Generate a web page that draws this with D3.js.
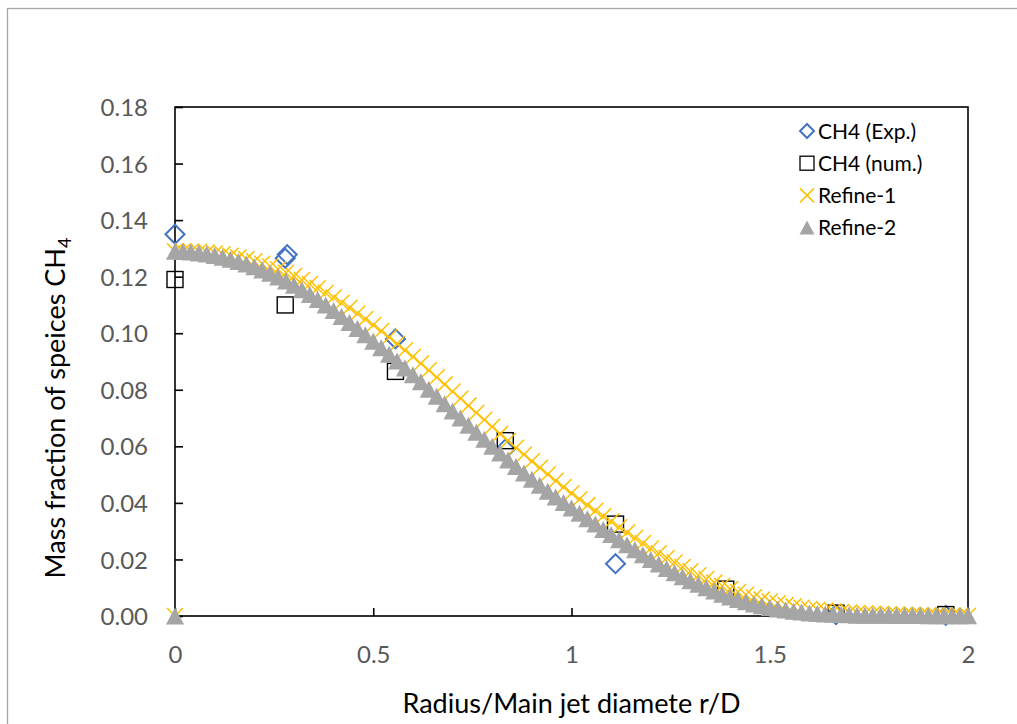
<!DOCTYPE html>
<html>
<head>
<meta charset="utf-8">
<script src="https://cdn.jsdelivr.net/npm/d3@7"></script>
<style>
  body { margin: 0; background: #fff; }
  svg { font-family: Lato, "Open Sans", sans-serif; }
</style>
</head>
<body>
<svg id="chart" width="1017" height="724"></svg>
<script>
// measured points
var expX = [0, 0.278, 0.283, 0.556, 0.833, 1.111, 1.667, 1.944];
var expY = [0.135, 0.1265, 0.1278, 0.098, 0.059, 0.0185, 0.0005, 0.0002];

var numX = [0, 0.278, 0.556, 0.833, 1.111, 1.389, 1.667, 1.944];
var numY = [0.119, 0.110, 0.0865, 0.062, 0.0325, 0.0095, 0.001, 0.0005];

// refined grid results, r/D = 0, 0.02, ... 2.0 (plus a stray point at the origin)
var refineStep = 0.02;
var refineOrigin = [0, 0];
var refine1 = [
  0.1290, 0.1290, 0.1289, 0.1288, 0.1285, 0.1282, 0.1279, 0.1274, 0.1268, 0.1262,
  0.1254, 0.1246, 0.1236, 0.1226, 0.1214, 0.1202, 0.1188, 0.1174, 0.1159, 0.1143,
  0.1126, 0.1108, 0.1090, 0.1070, 0.1050, 0.1029, 0.1008, 0.0986, 0.0963, 0.0940,
  0.0917, 0.0893, 0.0869, 0.0844, 0.0819, 0.0794, 0.0769, 0.0744, 0.0719, 0.0694,
  0.0669, 0.0644, 0.0620, 0.0595, 0.0571, 0.0547, 0.0524, 0.0501, 0.0478, 0.0456,
  0.0434, 0.0413, 0.0392, 0.0372, 0.0353, 0.0334, 0.0314, 0.0295, 0.0276, 0.0257,
  0.0239, 0.0222, 0.0205, 0.0189, 0.0173, 0.0158, 0.0144, 0.0131, 0.0118, 0.0106,
  0.0095, 0.0085, 0.0075, 0.0066, 0.0058, 0.0051, 0.0045, 0.0039, 0.0034, 0.0029,
  0.0025, 0.0022, 0.0019, 0.0016, 0.0014, 0.0012, 0.0010, 0.0009, 0.0008, 0.0007,
  0.0006, 0.0005, 0.0004, 0.0004, 0.0003, 0.0003, 0.0002, 0.0002, 0.0002, 0.0001,
  0.0001
];
var refine2 = [
  0.1290, 0.1289, 0.1287, 0.1284, 0.1280, 0.1275, 0.1269, 0.1262, 0.1254, 0.1245,
  0.1235, 0.1224, 0.1212, 0.1199, 0.1185, 0.1170, 0.1154, 0.1137, 0.1119, 0.1100,
  0.1080, 0.1059, 0.1038, 0.1017, 0.0995, 0.0972, 0.0949, 0.0926, 0.0902, 0.0877,
  0.0853, 0.0828, 0.0802, 0.0777, 0.0751, 0.0725, 0.0700, 0.0675, 0.0650, 0.0625,
  0.0600, 0.0576, 0.0552, 0.0529, 0.0506, 0.0484, 0.0462, 0.0441, 0.0421, 0.0401,
  0.0382, 0.0363, 0.0344, 0.0325, 0.0306, 0.0288, 0.0270, 0.0252, 0.0234, 0.0217,
  0.0200, 0.0184, 0.0168, 0.0153, 0.0139, 0.0125, 0.0112, 0.0100, 0.0088, 0.0077,
  0.0067, 0.0058, 0.0050, 0.0042, 0.0036, 0.0030, 0.0025, 0.0021, 0.0017, 0.0014,
  0.0011, 0.0009, 0.0007, 0.0006, 0.0005, 0.0004, 0.0003, 0.0003, 0.0003, 0.0003,
  0.0003, 0.0002, 0.0002, 0.0002, 0.0002, 0.0001, 0.0001, 0.0001, 0.0001, 0.0001,
  0.0001
];

var xTicks = [0, 0.5, 1, 1.5, 2];
var yTicks = [0, 0.02, 0.04, 0.06, 0.08, 0.10, 0.12, 0.14, 0.16, 0.18];
var legendNames = ["CH4 (Exp.)", "CH4 (num.)", "Refine-1", "Refine-2"];

var svg = d3.select("#chart");
var plot = { left: 175, right: 968, top: 107, bottom: 616 };

var x = d3.scaleLinear().domain([0, 2]).range([plot.left, plot.right]);
var y = d3.scaleLinear().domain([0, 0.18]).range([plot.bottom, plot.top]);

// outer chart border
svg.append("rect")
  .attr("x", 7.5).attr("y", 8.5)
  .attr("width", 1040).attr("height", 760)
  .attr("fill", "none")
  .attr("stroke", "#a6a6a6")
  .attr("stroke-width", 1.3);

// plot box
svg.append("rect")
  .attr("x", plot.left).attr("y", plot.top)
  .attr("width", plot.right - plot.left).attr("height", plot.bottom - plot.top)
  .attr("fill", "none")
  .attr("stroke", "#000")
  .attr("stroke-width", 1.6);

var yAxis = d3.axisLeft(y).tickValues(yTicks).tickSize(-8).tickPadding(27)
  .tickFormat(d3.format(".2f"));
var xAxis = d3.axisBottom(x).tickValues(xTicks).tickSize(-8).tickPadding(30)
  .tickFormat(function(d) { return String(d); });

var gy = svg.append("g")
  .attr("transform", "translate(" + plot.left + ",0)")
  .call(yAxis);
var gx = svg.append("g")
  .attr("transform", "translate(0," + plot.bottom + ")")
  .call(xAxis);

[gx, gy].forEach(function(g) {
  g.select(".domain").remove();
  g.selectAll(".tick line").attr("stroke", "#000").attr("stroke-width", 1.6);
  g.selectAll(".tick text")
    .attr("fill", "#595959")
    .style("font-size", "24px")
    .style("font-family", "Lato, sans-serif");
});
gy.selectAll(".tick text").attr("dy", "0.36em");
gx.selectAll(".tick text").attr("dy", "0.72em");

// axis titles
svg.append("text")
  .attr("x", (plot.left + plot.right) / 2)
  .attr("y", 713)
  .attr("text-anchor", "middle")
  .style("font-size", "27px")
  .attr("fill", "#000")
  .text("Radius/Main jet diamete r/D");

var yTitle = svg.append("text")
  .attr("transform", "translate(65,408) rotate(-90)")
  .attr("text-anchor", "middle")
  .style("font-size", "27px")
  .attr("fill", "#000");
yTitle.append("tspan").text("Mass fraction of speices CH");
yTitle.append("tspan").attr("dy", 6).style("font-size", "18px").text("4");

// marker shapes
function diamondPath(s) {
  return "M0," + (-s) + "L" + s + ",0L0," + s + "L" + (-s) + ",0Z";
}
function crossPath(s) {
  return "M" + (-s) + "," + (-s) + "L" + s + "," + s + "M" + (-s) + "," + s + "L" + s + "," + (-s);
}
function trianglePath(w, h) {
  return "M0," + (-h / 2) + "L" + (w / 2) + "," + (h / 2) + "L" + (-w / 2) + "," + (h / 2) + "Z";
}

var expData = expX.map(function(v, i) { return [v, expY[i]]; });
var numData = numX.map(function(v, i) { return [v, numY[i]]; });
var r1Data = [refineOrigin].concat(refine1.map(function(v, i) { return [i * refineStep, v]; }));
var r2Data = [refineOrigin].concat(refine2.map(function(v, i) { return [i * refineStep, v]; }));

svg.append("g").selectAll("path")
  .data(expData).enter().append("path")
  .attr("transform", function(d) { return "translate(" + x(d[0]) + "," + y(d[1]) + ")"; })
  .attr("d", diamondPath(9.5))
  .attr("fill", "none")
  .attr("stroke", "#4472c4")
  .attr("stroke-width", 2);

svg.append("g").selectAll("rect")
  .data(numData).enter().append("rect")
  .attr("x", function(d) { return x(d[0]) - 8; })
  .attr("y", function(d) { return y(d[1]) - 8; })
  .attr("width", 16).attr("height", 16)
  .attr("fill", "none")
  .attr("stroke", "#000")
  .attr("stroke-width", 1.4);

svg.append("g").selectAll("path")
  .data(r1Data).enter().append("path")
  .attr("transform", function(d) { return "translate(" + x(d[0]) + "," + y(d[1]) + ")"; })
  .attr("d", crossPath(8))
  .attr("fill", "none")
  .attr("stroke", "#ffc000")
  .attr("stroke-width", 1.5);

svg.append("g").selectAll("path")
  .data(r2Data).enter().append("path")
  .attr("transform", function(d) { return "translate(" + x(d[0]) + "," + y(d[1]) + ")"; })
  .attr("d", trianglePath(18, 17))
  .attr("fill", "#a5a5a5");

// legend
var legend = svg.append("g").attr("transform", "translate(807,131)");
var rows = legend.selectAll("g")
  .data(legendNames).enter().append("g")
  .attr("transform", function(d, i) { return "translate(0," + (i * 32.2) + ")"; });

rows.append("text")
  .attr("x", 11)
  .attr("dy", "0.36em")
  .style("font-size", "21px")
  .attr("fill", "#000")
  .text(function(d) { return d; });

rows.each(function(d, i) {
  var g = d3.select(this);
  if (i === 0) {
    g.append("path").attr("d", diamondPath(7)).attr("fill", "none")
      .attr("stroke", "#4472c4").attr("stroke-width", 2);
  } else if (i === 1) {
    g.append("rect").attr("x", -7).attr("y", -7).attr("width", 14).attr("height", 14)
      .attr("fill", "none").attr("stroke", "#000").attr("stroke-width", 1.3);
  } else if (i === 2) {
    g.append("path").attr("d", crossPath(7)).attr("fill", "none")
      .attr("stroke", "#ffc000").attr("stroke-width", 1.5);
  } else {
    g.append("path").attr("d", trianglePath(15, 14)).attr("fill", "#a5a5a5");
  }
});
</script>
</body>
</html>
